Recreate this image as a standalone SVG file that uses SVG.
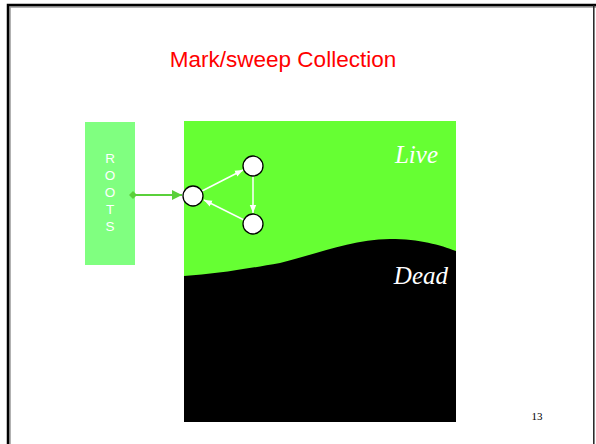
<svg xmlns="http://www.w3.org/2000/svg" width="596" height="444" viewBox="0 0 596 444">
<style>
.node{fill:#fff;stroke:#000;stroke-width:1.3}
.wl{stroke:#fff;stroke-width:1.5;fill:none}
.lbl{font-family:"Liberation Serif",serif;font-style:italic;font-size:25px;fill:#fff;text-anchor:end}
.roots{font-family:"Liberation Sans",sans-serif;font-size:13.5px;fill:#fff;text-anchor:middle}
</style>
<defs>
<marker id="wa" viewBox="0 0 10 10" refX="10" refY="5" markerWidth="8" markerHeight="8" markerUnits="userSpaceOnUse" orient="auto"><path d="M0,1 L10,5 L0,9 z" fill="#fff"/></marker>
<marker id="ga" viewBox="0 0 10 10" refX="10" refY="5" markerWidth="10" markerHeight="10" markerUnits="userSpaceOnUse" orient="auto"><path d="M0,0 L10,5 L0,10 z" fill="#5ad03a"/></marker>
<marker id="gd" viewBox="0 0 10 10" refX="5" refY="5" markerWidth="8" markerHeight="8" markerUnits="userSpaceOnUse" orient="auto"><path d="M0,5 L5,0 L10,5 L5,10 z" fill="#5ad03a"/></marker>
</defs>
<rect width="596" height="444" fill="#fff"/>
<g id="frame">
<path d="M10,446 V7 H596" fill="none" stroke="#999" stroke-width="1.5"/>
<path d="M8,446 V5 H596" fill="none" stroke="#000" stroke-width="2.5"/>
<line x1="593.8" y1="5" x2="593.8" y2="444" stroke="#222" stroke-width="1.5"/>
</g>
<text x="283" y="67" font-family="Liberation Sans,sans-serif" font-size="22.5" fill="#ff0000" text-anchor="middle">Mark/sweep Collection</text>
<g id="heap">
<rect x="184" y="121" width="272" height="301" fill="#66ff33"/>
<path d="M184,276 C215,274 240,270 280,263 C320,253 350,240 390,239 C420,239 440,245 456,251 V422 H184 Z" fill="#000"/>
<text class="lbl" x="438" y="163">Live</text>
<text class="lbl" x="448" y="284">Dead</text>
</g>
<g id="roots">
<rect x="85" y="122" width="50" height="143" fill="#80ff80"/>
<text class="roots" x="110" y="163">R</text>
<text class="roots" x="110" y="180">O</text>
<text class="roots" x="110" y="197">O</text>
<text class="roots" x="110" y="214">T</text>
<text class="roots" x="110" y="231">S</text>
</g>
<g id="connectors">
<line x1="133" y1="195" x2="182" y2="195" stroke="#5ad03a" stroke-width="2" marker-start="url(#gd)" marker-end="url(#ga)"/>
<line class="wl" x1="202" y1="191" x2="243" y2="170" marker-end="url(#wa)"/>
<line class="wl" x1="253" y1="176" x2="253" y2="213" marker-end="url(#wa)"/>
<line class="wl" x1="244" y1="220" x2="204" y2="200" marker-end="url(#wa)"/>
</g>
<g id="n1"><circle class="node" cx="193" cy="196" r="10"/></g>
<g id="n2"><circle class="node" cx="253" cy="166" r="10"/></g>
<g id="n3"><circle class="node" cx="253" cy="224" r="10"/></g>
<text x="537" y="420" font-family="Liberation Serif,serif" font-size="11" fill="#000" text-anchor="middle">13</text>
</svg>
